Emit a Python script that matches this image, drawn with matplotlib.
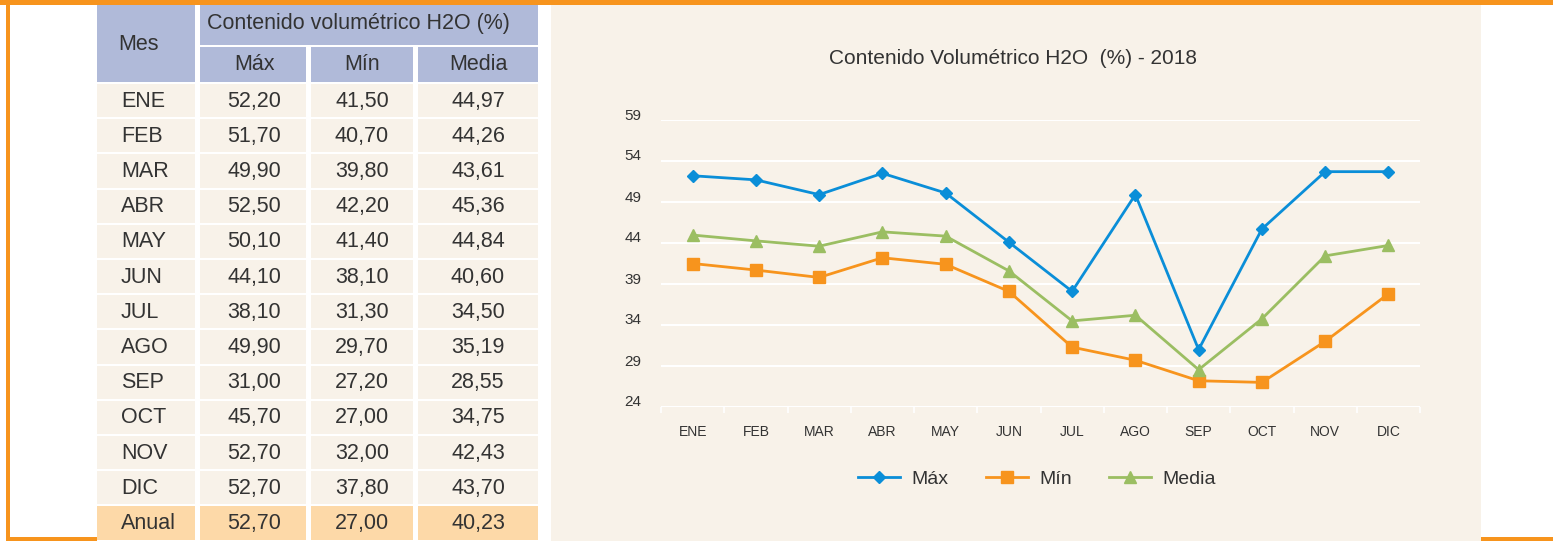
import matplotlib
matplotlib.use("Agg")
import matplotlib.pyplot as plt
from matplotlib.patches import Rectangle
from matplotlib import font_manager as fm
from matplotlib.transforms import ScaledTranslation
import numpy as np

meses = ["ENE", "FEB", "MAR", "ABR", "MAY", "JUN", "JUL", "AGO", "SEP", "OCT", "NOV", "DIC"]
maximo = [52.20, 51.70, 49.90, 52.50, 50.10, 44.10, 38.10, 49.90, 31.00, 45.70, 52.70, 52.70]
minimo = [41.50, 40.70, 39.80, 42.20, 41.40, 38.10, 31.30, 29.70, 27.20, 27.00, 32.00, 37.80]
media = [44.97, 44.26, 43.61, 45.36, 44.84, 40.60, 34.50, 35.19, 28.55, 34.75, 42.43, 43.70]
anual = [52.70, 27.00, 40.23]
y_ticks = [24, 29, 34, 39, 44, 49, 54, 59]

W, H = 1553, 541
ORANGE = "#F7941D"
BEIGE = "#F8F2E9"
HEADER = "#B0BAD9"
ANUAL_BG = "#FDD9A8"
TXT = "#333333"
C_MAX, C_MIN, C_MED = "#0A8ED8", "#F7941D", "#9BBE62"

installed = {f.name for f in fm.fontManager.ttflist}
base_font = "Liberation Sans" if "Liberation Sans" in installed else "DejaVu Sans"
plt.rcParams["font.family"] = [base_font, "DejaVu Sans"]

TFS = 15.5  # table font size


def fmt(v):
    return f"{v:.2f}".replace(".", ",")


fig = plt.figure(figsize=(W / 100, H / 100), dpi=100)
fig.patch.set_facecolor("white")

# background canvas in pixel coordinates
bg = fig.add_axes([0, 0, 1, 1])
bg.set_xlim(0, W)
bg.set_ylim(H, 0)
bg.axis("off")

# orange frame
bg.add_patch(Rectangle((0, 0), W, 5, color=ORANGE, lw=0))
bg.add_patch(Rectangle((6, 0), 4, H, color=ORANGE, lw=0))
bg.add_patch(Rectangle((6, 537), 91, 4, color=ORANGE, lw=0))
bg.add_patch(Rectangle((1481, 537), W - 1481, 4, color=ORANGE, lw=0))

# chart panel
bg.add_patch(Rectangle((551, 5), 930, H - 5, color=BEIGE, lw=0))

# table
cols = [(97, 195), (200, 306), (311, 413), (418, 538)]
col_c = [141, 254, 362, 478]
bg.add_patch(Rectangle((97, 5), 98, 77, color=HEADER, lw=0))
bg.add_patch(Rectangle((200, 5), 338, 40, color=HEADER, lw=0))
bg.text(139, 44, "Mes", ha="center", va="center", fontsize=TFS, color=TXT)
bg.text(358, 23, "Contenido volumétrico H2O (%)", ha="center", va="center", fontsize=TFS, color=TXT)
for (x0, x1), c, lab in zip(cols[1:], col_c[1:], ["Máx", "Mín", "Media"]):
    bg.add_patch(Rectangle((x0, 47), x1 - x0, 35, color=HEADER, lw=0))
    bg.text(c, 65, lab, ha="center", va="center", fontsize=TFS, color=TXT)

pitch = 35.2
rows = list(zip(meses, maximo, minimo, media)) + [("Anual", *anual)]
for i, (m, a, b, c) in enumerate(rows):
    y0 = 84 + pitch * i
    fc = ANUAL_BG if m == "Anual" else BEIGE
    for x0, x1 in cols:
        bg.add_patch(Rectangle((x0, y0), x1 - x0, pitch - 2, color=fc, lw=0))
    yc = y0 + pitch / 2 - 0.5
    bg.text(121, yc, m, ha="left", va="center", fontsize=TFS, color=TXT)
    for xc, v in zip(col_c[1:], (a, b, c)):
        bg.text(xc, yc, fmt(v), ha="center", va="center", fontsize=TFS, color=TXT)

# line chart
ax = fig.add_axes([661 / W, 1 - 407 / H, 759 / W, 287 / H])
ax.set_facecolor(BEIGE)
x = np.arange(len(meses))
ax.plot(x, maximo, color=C_MAX, lw=2.0, marker="D", ms=6, label="Máx")
ax.plot(x, minimo, color=C_MIN, lw=2.0, marker="s", ms=8, label="Mín")
ax.plot(x, media, color=C_MED, lw=2.0, marker="^", ms=8, label="Media")
ax.set_xlim(-0.5, len(meses) - 0.5)
ax.set_ylim(24, 59)
ax.set_yticks(y_ticks)
ax.set_xticks(x)
ax.set_xticklabels(meses, fontsize=10, color=TXT)
ax.set_xticks(np.arange(len(meses) + 1) - 0.5, minor=True)
ax.tick_params(axis="x", which="major", length=0, pad=13)
ax.tick_params(axis="x", which="minor", length=4, color="white", width=1.2)
ax.tick_params(axis="y", length=0, pad=14, labelsize=11, labelcolor=TXT)
for lab in ax.get_yticklabels():
    lab.set_transform(lab.get_transform() + ScaledTranslation(0, 6 / 100, fig.dpi_scale_trans))
ax.grid(axis="y", color="white", lw=1.5)
ax.set_axisbelow(True)
for s in ax.spines.values():
    s.set_visible(False)

fig.text(1013 / W, 1 - 58 / H, "Contenido Volumétrico H2O  (%) - 2018",
         ha="center", va="center", fontsize=15, color=TXT)

leg = ax.legend(loc="center", bbox_to_anchor=(1037 / W, 1 - 479 / H), bbox_transform=fig.transFigure,
                ncol=3, frameon=False, fontsize=14, handlelength=2.15, handletextpad=0.6,
                columnspacing=1.9)
for t in leg.get_texts():
    t.set_color(TXT)

fig.savefig("out.png", dpi=100)
